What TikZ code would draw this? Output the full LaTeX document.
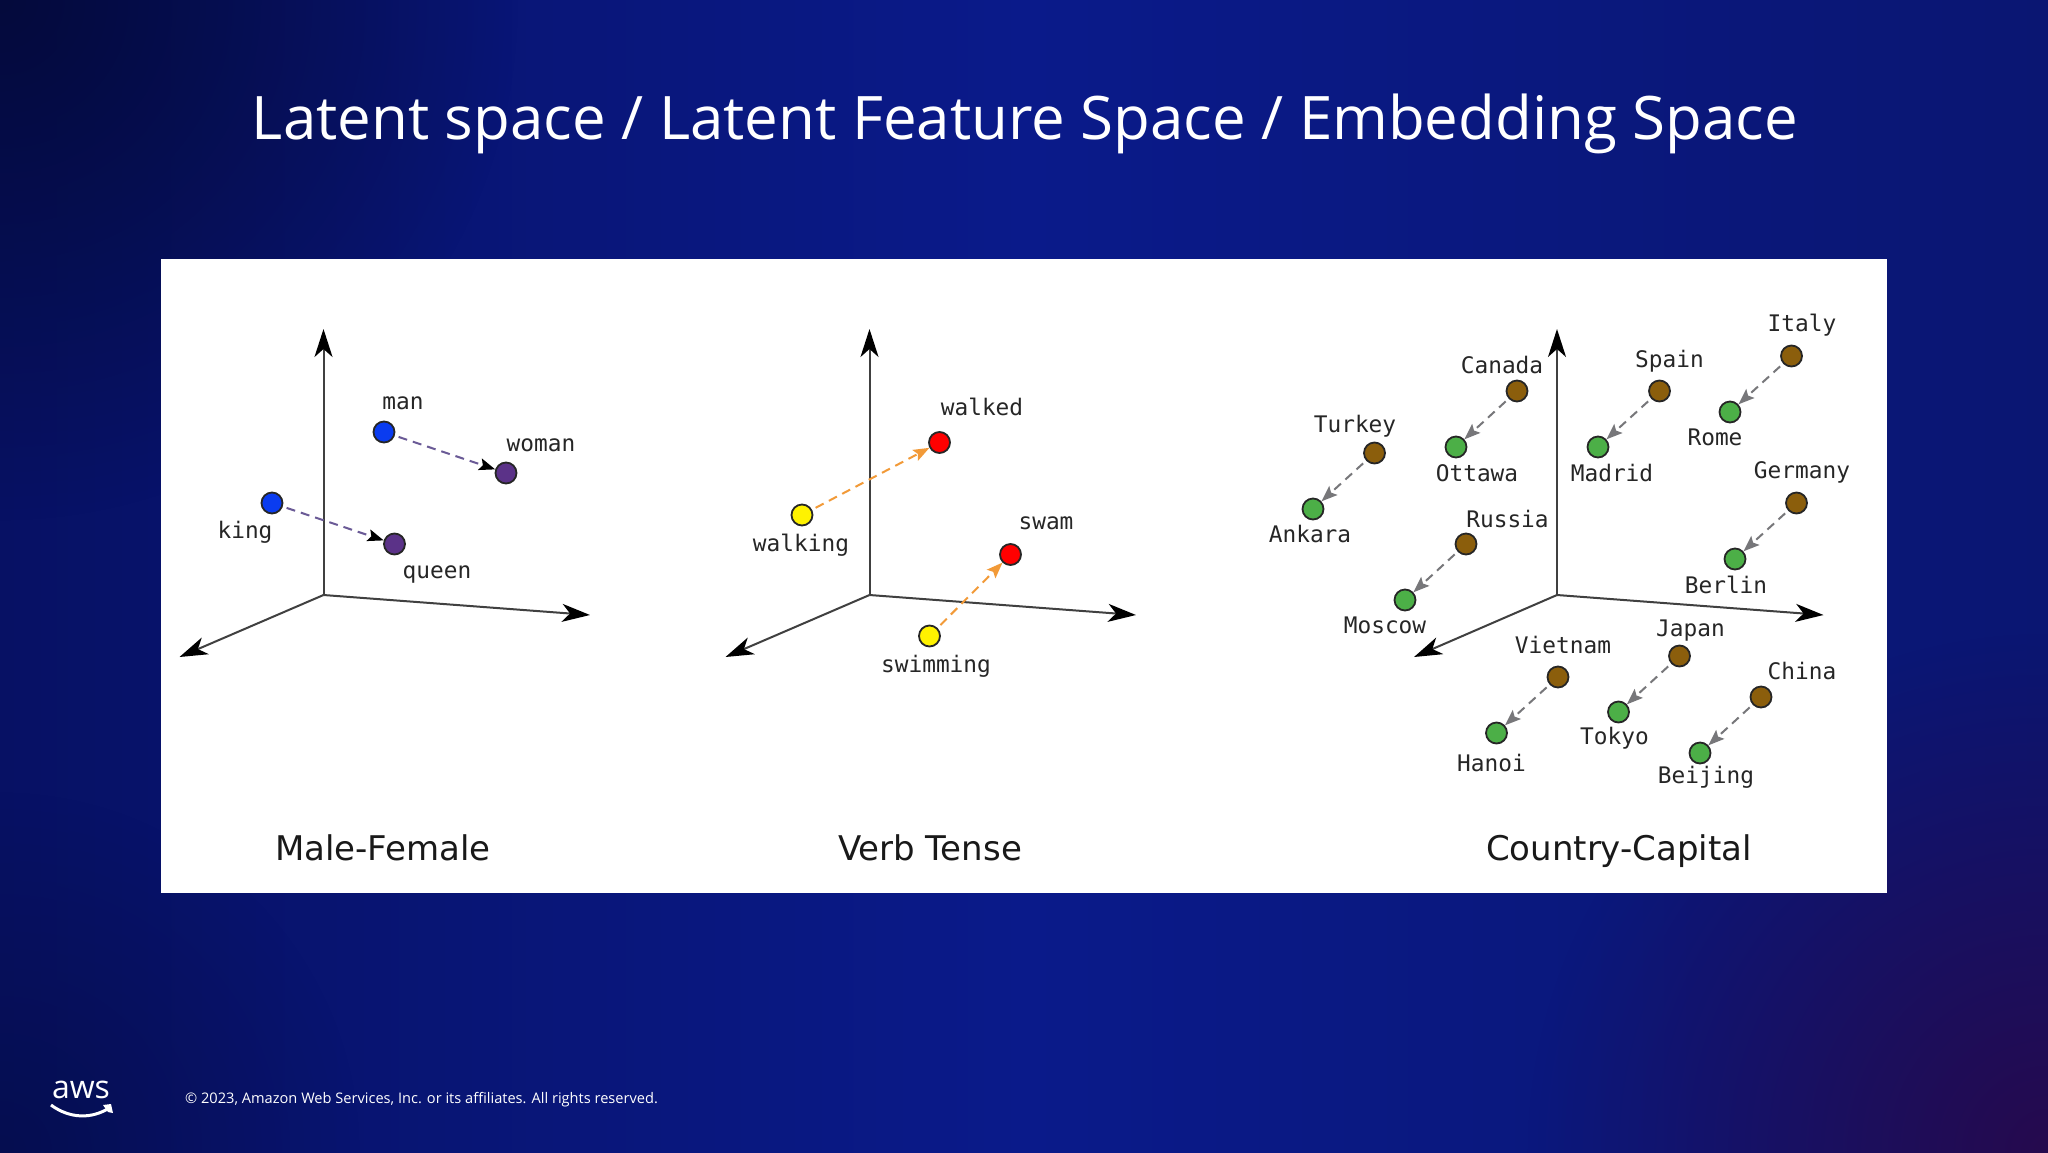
\documentclass[tikz,border=0pt]{standalone}
\usepackage{fontspec}
\setmainfont{Open Sans}
\setmonofont{DejaVu Sans Mono}
\newfontfamily\captionfont{DejaVu Sans}
\usepackage{xcolor}
\usetikzlibrary{arrows.meta,fadings}

\definecolor{bgdark}{HTML}{071164}
\definecolor{bgcorner}{HTML}{040A3C}
\definecolor{bgblue}{HTML}{0A1A8A}
\definecolor{bgright}{HTML}{0A1672}
\definecolor{bgplum}{HTML}{260A4E}
\definecolor{dotblue}{HTML}{0A3CF0}
\definecolor{dotplum}{HTML}{5B3288}
\definecolor{dotbrown}{HTML}{8B5E0C}
\definecolor{dotgreen}{HTML}{4CAF47}
\definecolor{linkplum}{HTML}{6A5A96}
\definecolor{linkorange}{HTML}{F29A38}
\definecolor{linkgrey}{HTML}{77777A}
\tikzfading[name=cornerglow, inner color=transparent!0, outer color=transparent!100]

\begin{document}
\begin{tikzpicture}[
  x=1pt, y=-1pt,
  dot/.style={circle, draw=black!85, line width=1.8pt, minimum size=21pt, inner sep=0pt},
  word/.style={font=\ttfamily\fontsize{22.8}{27}\selectfont, text=black!85, inner sep=0pt},
  panelname/.style={font=\captionfont\fontsize{34}{40}\selectfont, text=black!90, inner sep=0pt, anchor=base},
  axis/.style={-{Stealth[length=28pt, width=18pt, inset=8pt, black]}, line width=2pt, draw=black!75},
  link/.style={dashed, dash pattern=on 9pt off 6pt, line width=2pt, shorten <=4pt, shorten >=0pt},
  plumlink/.style={link, draw=linkplum, -{Stealth[length=16pt, width=12pt, inset=3pt, black]}},
  orangelink/.style={link, draw=linkorange, -{Stealth[length=16pt, width=12pt, inset=3pt]}},
  greylink/.style={link, draw=linkgrey, -{Stealth[length=16pt, width=12pt, inset=3pt]}}
]
  \useasboundingbox (0,0) rectangle (2048,1152);
  % backdrop
  \begin{scope}
    \clip (0,0) rectangle (2048,1152);
    \shade[left color=bgdark, right color=bgright, middle color=bgblue] (0,0) rectangle (2048,1152);
    \fill[bgcorner, path fading=cornerglow] (0,0) circle (520);
    \fill[bgcorner, path fading=cornerglow, opacity=.5] (0,1152) circle (360);
    \fill[bgplum, path fading=cornerglow] (2048,1152) circle (520);
  \end{scope}

  \node[font=\fontsize{60}{72}\selectfont, text=white, inner sep=0pt] (title) at (1025,124)
    {Latent space / Latent Feature Space / Embedding Space};
  \fill[white] (161,258.5) rectangle (1887,893);

  % male-female
  \coordinate (o1) at (323.5,595);
  \coordinate (up1) at (323.5,329);
  \coordinate (right1) at (590,615);
  \coordinate (front1) at (179.5,657);
  \draw[axis] (o1) -- (up1);
  \draw[axis] (o1) -- (right1);
  \draw[axis] (o1) -- (front1);
  \node[dot, fill=dotblue] (man) at (384,432) {};
  \node[dot, fill=dotplum] (woman) at (506,473) {};
  \node[dot, fill=dotblue] (king) at (272,503) {};
  \node[dot, fill=dotplum] (queen) at (394.5,544) {};
  \draw[plumlink] (man) -- (woman);
  \draw[plumlink] (king) -- (queen);
  \node[word] (manlabel) at (403,403) {man};
  \node[word] (womanlabel) at (541,445) {woman};
  \node[word] (kinglabel) at (245,532) {king};
  \node[word] (queenlabel) at (437,574) {queen};
  \node[panelname] (malefemale) at (383,860) {Male-Female};

  % verb tense
  \coordinate (o2) at (869.5,595);
  \coordinate (up2) at (869.5,329);
  \coordinate (right2) at (1136,615);
  \coordinate (front2) at (725.5,657);
  \draw[axis] (o2) -- (up2);
  \draw[axis] (o2) -- (right2);
  \draw[axis] (o2) -- (front2);
  \node[dot, fill=yellow] (walking) at (802,515) {};
  \node[dot, fill=red] (walked) at (939.5,442.5) {};
  \node[dot, fill=yellow] (swimming) at (929.5,636) {};
  \node[dot, fill=red] (swam) at (1010.5,554.5) {};
  \draw[orangelink] (walking) -- (walked);
  \draw[orangelink] (swimming) -- (swam);
  \node[word] (walkinglabel) at (801,545) {walking};
  \node[word] (walkedlabel) at (982,407) {walked};
  \node[word] (swimminglabel) at (936,666) {swimming};
  \node[word] (swamlabel) at (1046,523) {swam};
  \node[panelname] (verbtense) at (930,860) {Verb Tense};

  % country-capital
  \coordinate (o3) at (1557,595);
  \coordinate (up3) at (1557,329);
  \coordinate (right3) at (1823.5,615);
  \coordinate (front3) at (1414,657);
  \draw[axis] (o3) -- (up3);
  \draw[axis] (o3) -- (right3);
  \draw[axis] (o3) -- (front3);
  \node[dot, fill=dotbrown] (italy) at (1791.5,356) {};
  \node[dot, fill=dotgreen] (rome) at (1730,412) {};
  \node[dot, fill=dotbrown] (spain) at (1659.5,391) {};
  \node[dot, fill=dotgreen] (madrid) at (1598,447) {};
  \node[dot, fill=dotbrown] (canada) at (1517,391) {};
  \node[dot, fill=dotgreen] (ottawa) at (1456,447) {};
  \node[dot, fill=dotbrown] (turkey) at (1374.5,453) {};
  \node[dot, fill=dotgreen] (ankara) at (1313,509) {};
  \node[dot, fill=dotbrown] (russia) at (1466,544) {};
  \node[dot, fill=dotgreen] (moscow) at (1405,600) {};
  \node[dot, fill=dotbrown] (germany) at (1796.5,503) {};
  \node[dot, fill=dotgreen] (berlin) at (1735,559) {};
  \node[dot, fill=dotbrown] (vietnam) at (1558,677) {};
  \node[dot, fill=dotgreen] (hanoi) at (1496.5,733) {};
  \node[dot, fill=dotbrown] (japan) at (1679.5,656) {};
  \node[dot, fill=dotgreen] (tokyo) at (1618.5,712) {};
  \node[dot, fill=dotbrown] (china) at (1761,697) {};
  \node[dot, fill=dotgreen] (beijing) at (1700,753) {};
  \draw[greylink] (italy) -- (rome);
  \draw[greylink] (spain) -- (madrid);
  \draw[greylink] (canada) -- (ottawa);
  \draw[greylink] (turkey) -- (ankara);
  \draw[greylink] (russia) -- (moscow);
  \draw[greylink] (germany) -- (berlin);
  \draw[greylink] (vietnam) -- (hanoi);
  \draw[greylink] (japan) -- (tokyo);
  \draw[greylink] (china) -- (beijing);
  \node[word] (italylabel) at (1802,325.5) {Italy};
  \node[word] (romelabel) at (1715,437) {Rome};
  \node[word] (spainlabel) at (1669.5,361) {Spain};
  \node[word] (madridlabel) at (1612,473) {Madrid};
  \node[word] (canadalabel) at (1502,365) {Canada};
  \node[word] (ottawalabel) at (1477,473) {Ottawa};
  \node[word] (turkeylabel) at (1355,426.5) {Turkey};
  \node[word] (ankaralabel) at (1310,534) {Ankara};
  \node[word] (russialabel) at (1507.5,519) {Russia};
  \node[word] (moscowlabel) at (1385,625) {Moscow};
  \node[word] (germanylabel) at (1802,472.5) {Germany};
  \node[word] (berlinlabel) at (1726,585) {Berlin};
  \node[word] (vietnamlabel) at (1563,645) {Vietnam};
  \node[word] (hanoilabel) at (1491.5,763) {Hanoi};
  \node[word] (japanlabel) at (1690.5,630.5) {Japan};
  \node[word] (tokyolabel) at (1614.5,738) {Tokyo};
  \node[word] (chinalabel) at (1802,671) {China};
  \node[word] (beijinglabel) at (1706,777) {Beijing};
  \node[panelname] (countrycapital) at (1619,860) {Country-Capital};

  % footer
  \node[font=\fontsize{32}{38}\selectfont, text=white, inner sep=0pt] (aws) at (81,1090) {aws};
  \draw[white, line width=3pt] (51,1105) .. controls (70,1119) and (92,1119) .. (109,1108);
  \fill[white] (111,1104) -- (113,1113) -- (108,1112) -- (103,1105) -- cycle;
  \node[font=\fontsize{14.6}{18}\selectfont, text=white, inner sep=0pt, anchor=west] (rights) at (185,1099.5)
    {© 2023, Amazon Web Services, Inc. or its affiliates. All rights reserved.};
\end{tikzpicture}
\end{document}
